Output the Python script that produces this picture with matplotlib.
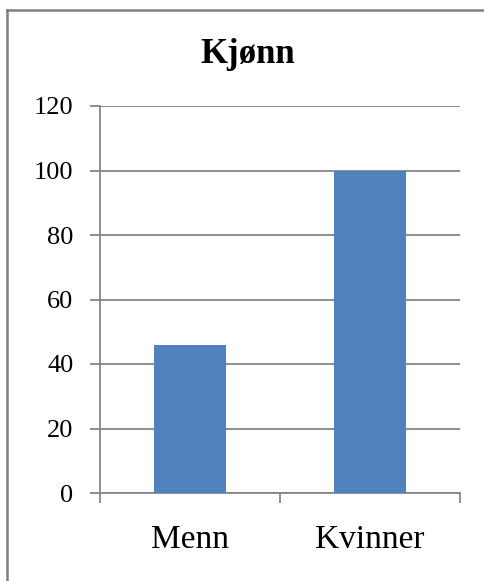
import matplotlib
matplotlib.use("Agg")
import matplotlib.pyplot as plt
from matplotlib.lines import Line2D
import numpy as np

categories = ["Menn", "Kvinner"]
counts = [46, 100]
y_ticks = [0, 20, 40, 60, 80, 100, 120]

BAR_COLOR = "#4F81BD"
GRID_COLOR = "#868686"
FRAME_COLOR = "#7f7f7f"

plt.rcParams["font.family"] = ["Liberation Serif", "DejaVu Serif"]

fig = plt.figure(figsize=(4.85, 5.81), dpi=100, facecolor="white")

# outer chart frame: only the left and top edges fall inside the canvas
fx, fy = 7.5 / 485, 1 - 9.5 / 581
fig.add_artist(Line2D([fx, fx], [0, fy], transform=fig.transFigure,
                      color=FRAME_COLOR, linewidth=1.8))
fig.add_artist(Line2D([fx, 1], [fy, fy], transform=fig.transFigure,
                      color=FRAME_COLOR, linewidth=1.8))

ax = fig.add_axes([100 / 485, 1 - 493 / 581, 360 / 485, 387 / 581])
x = np.arange(len(categories))
ax.bar(x, counts, width=0.4, color=BAR_COLOR, zorder=3)

ax.set_xlim(-0.5, len(categories) - 0.5)
ax.set_ylim(0, 120)
ax.set_yticks(y_ticks)
ax.set_yticklabels([str(v) for v in y_ticks], fontsize=19)
ax.yaxis.grid(True, color=GRID_COLOR, linewidth=1.3, zorder=0)

# category labels sit between boundary ticks
ax.set_xticks([-0.5, 0.5, 1.5])
ax.set_xticklabels([])
ax.set_xticks(x, minor=True)
ax.set_xticklabels(categories, minor=True, fontsize=24)
ax.tick_params(axis="x", which="minor", length=0, pad=23)
ax.tick_params(axis="x", which="major", length=7, width=1.3, color=GRID_COLOR)
ax.tick_params(axis="y", length=7, width=1.3, color=GRID_COLOR, pad=12)

for side in ("top", "right"):
    ax.spines[side].set_visible(False)
for side in ("left", "bottom"):
    ax.spines[side].set_color(GRID_COLOR)
    ax.spines[side].set_linewidth(1.3)

fig.text(248 / 485, 1 - 63 / 581, "Kjønn", ha="center", va="baseline",
         fontsize=25, fontweight="bold")

fig.savefig("out.png", dpi=100, facecolor="white")
